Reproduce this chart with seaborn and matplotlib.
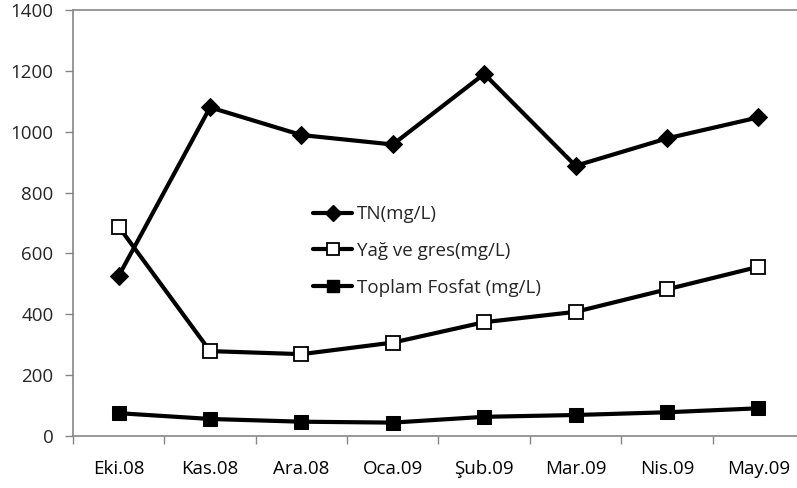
import matplotlib
matplotlib.use("Agg")
import matplotlib.pyplot as plt
import seaborn as sns
import pandas as pd
from matplotlib.lines import Line2D
from matplotlib.ticker import FixedLocator

months = ["Eki.08", "Kas.08", "Ara.08", "Oca.09", "Şub.09", "Mar.09", "Nis.09", "May.09"]
tn = [526, 1080, 989, 958, 1190, 888, 978, 1047]
yag = [688, 279, 269, 307, 374, 408, 482, 556]
fosfat = [75, 56, 47, 44, 63, 69, 78, 91]
labels = ["TN(mg/L)", "Yağ ve gres(mg/L)", "Toplam Fosfat (mg/L)"]
yticks = [0, 200, 400, 600, 800, 1000, 1200, 1400]

sns.set_style("white")
plt.rcParams['font.family'] = ['Open Sans', 'DejaVu Sans']
FS = 13.5

fig = plt.figure(figsize=(7.97, 4.88), dpi=100)
ax = fig.add_axes([73/797, 1-436/488, (804-73)/797, (436-10)/488])

pos = list(range(len(months)))
series = [
    (tn, dict(marker="D", markersize=9, markerfacecolor="black", markeredgecolor="black")),
    (yag, dict(marker="s", markersize=10.5, markerfacecolor="white", markeredgecolor="black", markeredgewidth=1.3)),
    (fosfat, dict(marker="s", markersize=10.5, markerfacecolor="black", markeredgecolor="black")),
]
handles = []
for (vals, st), lab in zip(series, labels):
    df = pd.DataFrame({"x": pos, "y": vals})
    sns.lineplot(data=df, x="x", y="y", ax=ax, color="black", linewidth=3.0, **st)
    hst = dict(st)
    hst["markersize"] = st["markersize"] * 0.85
    handles.append(Line2D([], [], color="black", linewidth=3.0, **hst))

ax.set_xlim(-0.5, len(months) - 0.5)
ax.set_ylim(0, 1400)
ax.set_xticks(pos)
ax.set_xticklabels(months)
ax.xaxis.set_minor_locator(FixedLocator([p - 0.5 for p in pos] + [len(months) - 0.5]))
ax.tick_params(axis="x", which="major", length=0, pad=17, labelsize=FS, colors="black")
ax.tick_params(axis="x", which="minor", length=6, width=1, color="#868686", direction="out", bottom=True)
ax.set_yticks(yticks)
ax.set_yticklabels([str(v) for v in yticks])
ax.tick_params(axis="y", length=6, width=1, color="#868686", direction="out", left=True, labelsize=FS, pad=8)
ax.set_xlabel("")
ax.set_ylabel("")
for side in ["left", "bottom", "top", "right"]:
    ax.spines[side].set_color("#868686")
    ax.spines[side].set_linewidth(1.2)
    ax.spines[side].set_visible(True)

ax.legend(handles, labels, loc="center left", bbox_to_anchor=(313/797, 1-251/488),
          bbox_transform=fig.transFigure, frameon=False, fontsize=FS,
          handlelength=2.1, handletextpad=0.25, labelspacing=1.0, borderpad=0, borderaxespad=0)

fig.savefig("out.png", dpi=100)
